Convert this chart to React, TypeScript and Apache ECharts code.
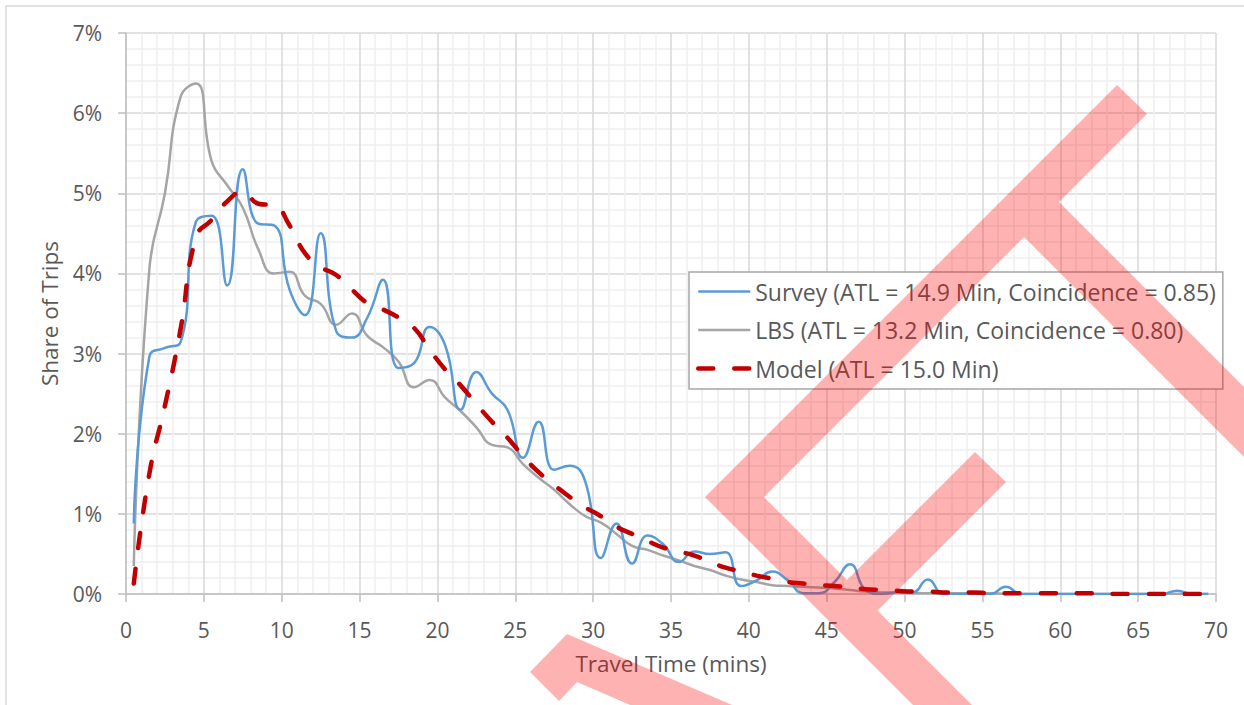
import React, { useEffect, useRef } from "react";
import * as echarts from "echarts";

// ---- data ----
const minutes = [
  0.5, 1.5, 2.5, 3.5, 4.5, 5.5, 6.5, 7.5, 8.5, 9.5,
  10.5, 11.5, 12.5, 13.5, 14.5, 15.5, 16.5, 17.5, 18.5, 19.5,
  20.5, 21.5, 22.5, 23.5, 24.5, 25.5, 26.5, 27.5, 28.5, 29.5,
  30.5, 31.5, 32.5, 33.5, 34.5, 35.5, 36.5, 37.5, 38.5, 39.5,
  40.5, 41.5, 42.5, 43.5, 44.5, 45.5, 46.5, 47.5, 48.5, 49.5,
  50.5, 51.5, 52.5, 53.5, 54.5, 55.5, 56.5, 57.5, 58.5, 59.5,
  60.5, 61.5, 62.5, 63.5, 64.5, 65.5, 66.5, 67.5, 68.5, 69.5,
];

const surveyShare = [
  0.88, 2.96, 3.07, 3.14, 4.65, 4.72, 3.85, 5.3, 4.62, 4.6,
  3.8, 3.48, 4.5, 3.28, 3.2, 3.45, 3.92, 2.82, 2.88, 3.33,
  3.1, 2.3, 2.77, 2.5, 2.3, 1.7, 2.15, 1.55, 1.6, 1.4,
  0.45, 0.88, 0.38, 0.73, 0.62, 0.4, 0.53, 0.5, 0.52, 0.1,
  0.17, 0.28, 0.17, 0.01, 0.01, 0.15, 0.37, 0.05, 0.0, 0.02,
  0.02, 0.18, 0.0, 0.0, 0.0, 0.0, 0.09, 0.0, 0.0, 0.0,
  0.0, 0.0, 0.0, 0.0, 0.0, 0.0, 0.0, 0.04, 0.0, 0.0,
];

const lbsShare = [
  0.35, 4.05, 5.0, 6.2, 6.37, 5.4, 5.1, 4.82, 4.3, 4.0,
  4.02, 3.72, 3.62, 3.36, 3.5, 3.22, 3.08, 2.9, 2.58, 2.67,
  2.45, 2.28, 2.08, 1.86, 1.83, 1.62, 1.45, 1.3, 1.12, 0.97,
  0.89, 0.75, 0.6, 0.55, 0.48, 0.42, 0.35, 0.3, 0.23, 0.18,
  0.15, 0.11, 0.1, 0.09, 0.08, 0.07, 0.05, 0.03, 0.02, 0.02,
  0.01, 0.01, 0.01, 0.01, 0.01, 0.01, 0.0, 0.0, 0.0, 0.0,
  0.0, 0.0, 0.0, 0.0, 0.0, 0.0, 0.0, 0.0, 0.0, 0.0,
];

const modelShare = [
  0.13, 1.5, 2.35, 3.3, 4.45, 4.67, 4.9, 5.02, 4.87, 4.85,
  4.6, 4.25, 4.08, 3.98, 3.8, 3.63, 3.55, 3.45, 3.32, 3.05,
  2.8, 2.6, 2.37, 2.15, 1.95, 1.72, 1.52, 1.36, 1.21, 1.08,
  0.97, 0.84, 0.75, 0.66, 0.58, 0.53, 0.48, 0.4, 0.33, 0.28,
  0.23, 0.19, 0.15, 0.13, 0.11, 0.1, 0.08, 0.06, 0.05, 0.04,
  0.03, 0.03, 0.02, 0.02, 0.02, 0.01, 0.01, 0.01, 0.01, 0.01,
  0.01, 0.01, 0.01, 0.0, 0.0, 0.0, 0.0, 0.0, 0.0, 0.0,
];

const seriesNames = [
  "Survey (ATL = 14.9 Min, Coincidence = 0.85)",
  "LBS (ATL = 13.2 Min, Coincidence = 0.80)",
  "Model (ATL = 15.0 Min)",
];

const xAxisTitle = "Travel Time (mins)";
const yAxisTitle = "Share of Trips";

// ---- decorative watermark (translucent red strokes) ----
const watermarkPolys: number[][][] = [
  [[705, 497], [1117, 85], [1147, 114], [764, 497], [990, 723], [931, 723]],
  [[1045, 188], [1270, 413], [1270, 483], [1010, 223]],
  [[975, 452], [1006, 482], [863, 625], [832, 595]],
  [[567, 634], [767, 720], [665, 720], [577, 682], [559, 701], [530, 672]],
];

function polyToPath(pts: number[][]): string {
  let area = 0;
  for (let i = 0; i < pts.length; i++) {
    const a = pts[i];
    const b = pts[(i + 1) % pts.length];
    area += a[0] * b[1] - b[0] * a[1];
  }
  const p = area < 0 ? pts.slice().reverse() : pts;
  return "M" + p.map(([x, y]) => `${x} ${y}`).join(" L") + " Z";
}

const watermarkD = watermarkPolys.map(polyToPath).join(" ");
echarts.graphic.registerShape("watermark", echarts.graphic.extendPath(watermarkD, {}));

const pairs = (vals: number[]) => minutes.map((m, i) => [m, vals[i]]);

const FONT = "'Open Sans', 'Noto Sans', sans-serif";
const TEXT = "#595959";

export default function App() {
  const ref = useRef<HTMLDivElement>(null);

  useEffect(() => {
    if (!ref.current) return;
    const chart = echarts.init(ref.current, null, { renderer: "svg" });
    const option: any = {
      animation: false,
      backgroundColor: "#ffffff",
      textStyle: { fontFamily: FONT },
      grid: { left: 126, right: 28, top: 33, bottom: 111 },
      legend: {
        orient: "vertical",
        left: 689,
        top: 272,
        padding: [6, 7, 7, 7],
        itemWidth: 52,
        itemHeight: 12,
        itemGap: 11.5,
        backgroundColor: "#ffffff",
        borderColor: "#a6a6a6",
        borderWidth: 1.5,
        itemStyle: { opacity: 0 },
        lineStyle: { width: "inherit", type: "inherit", cap: "inherit" },
        textStyle: { color: TEXT, fontSize: 23, fontFamily: FONT, lineHeight: 27 },
        data: seriesNames,
      },
      xAxis: {
        type: "value",
        min: 0,
        max: 70,
        interval: 5,
        name: xAxisTitle,
        nameLocation: "middle",
        nameGap: 58,
        nameTextStyle: { color: TEXT, fontSize: 22.5, fontFamily: FONT },
        axisLine: { show: true, lineStyle: { color: "#bfbfbf", width: 1.5 } },
        axisTick: { show: true, length: 8, lineStyle: { color: "#bfbfbf", width: 1.5 } },
        axisLabel: { color: TEXT, fontSize: 21, margin: 25, fontFamily: FONT },
        splitLine: { show: true, lineStyle: { color: "#d9d9d9", width: 1.5 } },
        minorTick: { show: false, splitNumber: 5 },
        minorSplitLine: { show: true, lineStyle: { color: "#efefef", width: 1.5 } },
      },
      yAxis: {
        type: "value",
        min: 0,
        max: 7,
        interval: 1,
        name: yAxisTitle,
        nameLocation: "middle",
        nameGap: 65,
        nameRotate: 90,
        nameTextStyle: { color: TEXT, fontSize: 22.5, fontFamily: FONT },
        axisLine: { show: true, lineStyle: { color: "#bfbfbf", width: 1.5 } },
        axisTick: { show: true, length: 8, lineStyle: { color: "#bfbfbf", width: 1.5 } },
        axisLabel: { color: TEXT, fontSize: 21, margin: 24, formatter: "{value}%", fontFamily: FONT },
        splitLine: { show: true, lineStyle: { color: "#d9d9d9", width: 1.5 } },
        minorTick: { show: false, splitNumber: 5 },
        minorSplitLine: { show: true, lineStyle: { color: "#efefef", width: 1.5 } },
      },
      series: [
        {
          name: seriesNames[0],
          type: "line",
          data: pairs(surveyShare),
          smooth: 0.5,
          symbol: "none",
          lineStyle: { color: "#5b9bd5", width: 2.5 },
          itemStyle: { color: "#5b9bd5" },
          z: 3,
        },
        {
          name: seriesNames[1],
          type: "line",
          data: pairs(lbsShare),
          smooth: 0.5,
          symbol: "none",
          lineStyle: { color: "#a5a5a5", width: 2.5 },
          itemStyle: { color: "#a5a5a5" },
          z: 2,
        },
        {
          name: seriesNames[2],
          type: "line",
          data: pairs(modelShare),
          smooth: 0.5,
          symbol: "none",
          lineStyle: { color: "#c00000", width: 4.5, type: [15, 21], cap: "round" },
          itemStyle: { color: "#c00000" },
          z: 4,
        },
      ],
      graphic: [
        {
          type: "rect",
          silent: true,
          z: -10,
          shape: { x: 6, y: 6, width: 1300, height: 800 },
          style: { fill: "none", stroke: "#d9d9d9", lineWidth: 1.5 },
        },
        {
          type: "watermark",
          silent: true,
          x: 0,
          y: 0,
          z: 100,
          style: { fill: "rgba(255,0,0,0.3)", stroke: "none" },
        },
      ],
    };
    chart.setOption(option);
    return () => chart.dispose();
  }, []);

  return (
    <div
      ref={ref}
      style={{ position: "fixed", left: 0, top: 0, width: 1244, height: 705 }}
    />
  );
}
